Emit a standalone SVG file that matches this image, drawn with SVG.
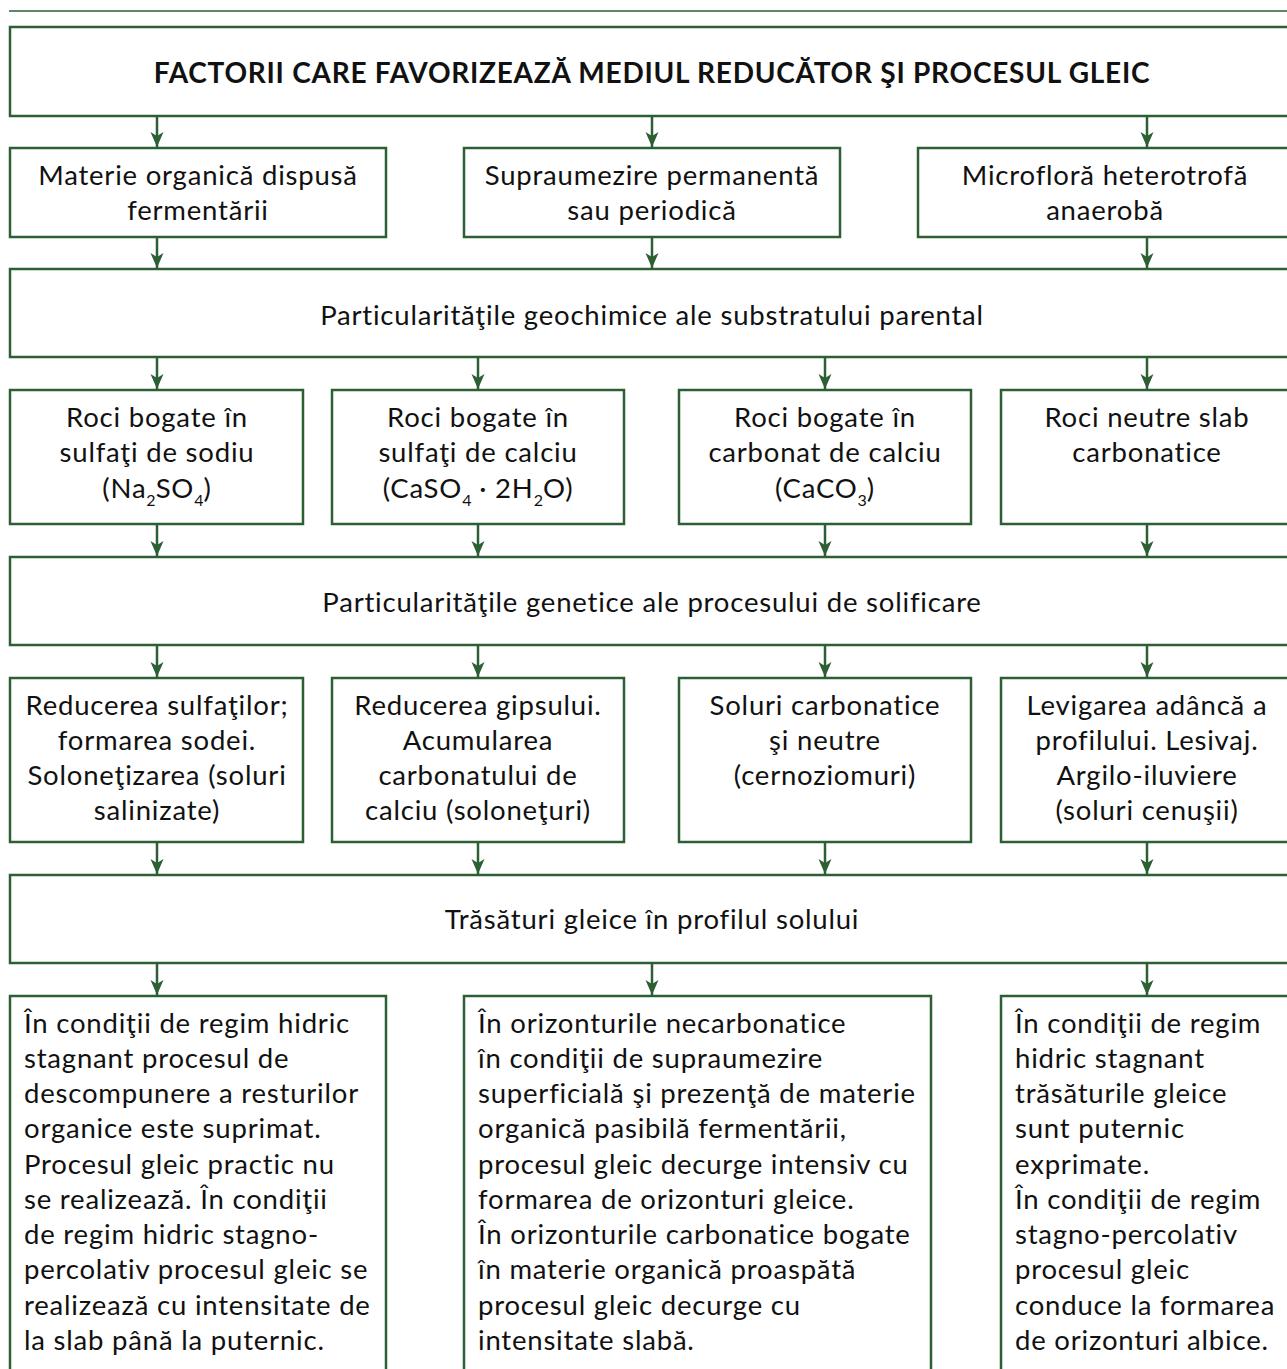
<svg xmlns="http://www.w3.org/2000/svg" width="1287" height="1369" viewBox="0 0 1287 1369">
  <style>
    .box { fill: #ffffff; stroke: #2c5f34; stroke-width: 2.5; }
    .rule { stroke: #2c5f34; stroke-width: 1.6; }
    .conn { stroke: #2c5f34; stroke-width: 2.5; fill: none; }
    text { font-family: Lato, "Liberation Sans", sans-serif; font-size: 27.5px; letter-spacing: 0.8px; fill: #111111; }
    .c { text-anchor: middle; }
    .title { font-weight: bold; font-size: 28px; letter-spacing: 0.75px; }
    .sub { font-size: 16px; letter-spacing: 0; }
  </style>
  <defs>
    <!-- arrowhead, tip at the end point of the connector -->
    <marker id="head" viewBox="-15 -7 15 14" refX="0" refY="0" markerWidth="15" markerHeight="14" markerUnits="userSpaceOnUse" orient="auto">
      <path d="M-15,-6.5 L-11,0 L-15,6.5 L0,0 Z" fill="#2c5f34"/>
    </marker>
  </defs>
  <rect width="1287" height="1369" fill="#ffffff"/>
  <line class="rule" x1="9" y1="11" x2="1290" y2="11"/>

  <!-- title -->
  <g id="n-title">
    <rect class="box" x="10" y="27" width="1290" height="89"/>
    <text class="c title" x="652" y="83">FACTORII CARE FAVORIZEAZĂ MEDIUL REDUCĂTOR ŞI PROCESUL GLEIC</text>
  </g>

  <!-- row 1 -->
  <g id="n-materie">
    <rect class="box" x="10" y="148" width="376" height="89"/>
    <text class="c" x="198" y="185">Materie organică dispusă</text>
    <text class="c" x="198" y="220">fermentării</text>
  </g>
  <g id="n-supraumezire">
    <rect class="box" x="464" y="148" width="376" height="89"/>
    <text class="c" x="652" y="185">Supraumezire permanentă</text>
    <text class="c" x="652" y="220">sau periodică</text>
  </g>
  <g id="n-microflora">
    <rect class="box" x="918" y="148" width="380" height="89"/>
    <text class="c" x="1105" y="185">Microfloră heterotrofă</text>
    <text class="c" x="1105" y="220">anaerobă</text>
  </g>

  <!-- geochemical band -->
  <g id="n-geochimice">
    <rect class="box" x="10" y="269" width="1290" height="88"/>
    <text class="c" x="652" y="325">Particularităţile geochimice ale substratului parental</text>
  </g>

  <!-- row 3 -->
  <g id="n-roci-na">
    <rect class="box" x="10" y="390" width="293" height="134"/>
    <text class="c" x="157" y="427">Roci bogate în</text>
    <text class="c" x="157" y="462">sulfaţi de sodiu</text>
    <text class="c" x="157" y="498">(Na<tspan class="sub" dy="8">2</tspan><tspan dy="-8">SO</tspan><tspan class="sub" dy="8">4</tspan><tspan dy="-8">)</tspan></text>
  </g>
  <g id="n-roci-ca">
    <rect class="box" x="332" y="390" width="292" height="134"/>
    <text class="c" x="478" y="427">Roci bogate în</text>
    <text class="c" x="478" y="462">sulfaţi de calciu</text>
    <text class="c" x="478" y="498">(CaSO<tspan class="sub" dy="8">4</tspan><tspan dy="-8"> · 2H</tspan><tspan class="sub" dy="8">2</tspan><tspan dy="-8">O)</tspan></text>
  </g>
  <g id="n-roci-co3">
    <rect class="box" x="679" y="390" width="292" height="134"/>
    <text class="c" x="825" y="427">Roci bogate în</text>
    <text class="c" x="825" y="462">carbonat de calciu</text>
    <text class="c" x="825" y="498">(CaCO<tspan class="sub" dy="8">3</tspan><tspan dy="-8">)</tspan></text>
  </g>
  <g id="n-roci-neutre">
    <rect class="box" x="1001" y="390" width="300" height="134"/>
    <text class="c" x="1147" y="427">Roci neutre slab</text>
    <text class="c" x="1147" y="462">carbonatice</text>
  </g>

  <!-- genetic band -->
  <g id="n-genetice">
    <rect class="box" x="10" y="557" width="1290" height="88"/>
    <text class="c" x="652" y="612">Particularităţile genetice ale procesului de solificare</text>
  </g>

  <!-- row 5 -->
  <g id="n-sulfati">
    <rect class="box" x="10" y="678" width="293" height="164"/>
    <text class="c" x="157" y="715">Reducerea sulfaţilor;</text>
    <text class="c" x="157" y="750">formarea sodei.</text>
    <text class="c" x="157" y="785">Soloneţizarea (soluri</text>
    <text class="c" x="157" y="820">salinizate)</text>
  </g>
  <g id="n-gips">
    <rect class="box" x="332" y="678" width="292" height="164"/>
    <text class="c" x="478" y="715">Reducerea gipsului.</text>
    <text class="c" x="478" y="750">Acumularea</text>
    <text class="c" x="478" y="785">carbonatului de</text>
    <text class="c" x="478" y="820">calciu (soloneţuri)</text>
  </g>
  <g id="n-carbonatice">
    <rect class="box" x="679" y="678" width="292" height="164"/>
    <text class="c" x="825" y="715">Soluri carbonatice</text>
    <text class="c" x="825" y="750">şi neutre</text>
    <text class="c" x="825" y="785">(cernoziomuri)</text>
  </g>
  <g id="n-levigare">
    <rect class="box" x="1001" y="678" width="300" height="164"/>
    <text class="c" x="1147" y="715">Levigarea adâncă a</text>
    <text class="c" x="1147" y="750">profilului. Lesivaj.</text>
    <text class="c" x="1147" y="785">Argilo-iluviere</text>
    <text class="c" x="1147" y="820">(soluri cenuşii)</text>
  </g>

  <!-- gley band -->
  <g id="n-gleice">
    <rect class="box" x="10" y="875" width="1290" height="88"/>
    <text class="c" x="652" y="929">Trăsături gleice în profilul solului</text>
  </g>

  <!-- row 7 -->
  <g id="n-stagnant">
    <rect class="box" x="10" y="996" width="376" height="390"/>
    <text x="24" y="1033">În condiţii de regim hidric</text>
    <text x="24" y="1068">stagnant procesul de</text>
    <text x="24" y="1103">descompunere a resturilor</text>
    <text x="24" y="1138">organice este suprimat.</text>
    <text x="24" y="1174">Procesul gleic practic nu</text>
    <text x="24" y="1209">se realizează. În condiţii</text>
    <text x="24" y="1244">de regim hidric stagno-</text>
    <text x="24" y="1279">percolativ procesul gleic se</text>
    <text x="24" y="1315">realizează cu intensitate de</text>
    <text x="24" y="1350">la slab până la puternic.</text>
  </g>
  <g id="n-orizonturi">
    <rect class="box" x="464" y="996" width="467" height="390"/>
    <text x="478" y="1033">În orizonturile necarbonatice</text>
    <text x="478" y="1068">în condiţii de supraumezire</text>
    <text x="478" y="1103">superficială şi prezenţă de materie</text>
    <text x="478" y="1138">organică pasibilă fermentării,</text>
    <text x="478" y="1174">procesul gleic decurge intensiv cu</text>
    <text x="478" y="1209">formarea de orizonturi gleice.</text>
    <text x="478" y="1244">În orizonturile carbonatice bogate</text>
    <text x="478" y="1279">în materie organică proaspătă</text>
    <text x="478" y="1315">procesul gleic decurge cu</text>
    <text x="478" y="1350">intensitate slabă.</text>
  </g>
  <g id="n-albice">
    <rect class="box" x="1001" y="996" width="300" height="390"/>
    <text x="1015" y="1033">În condiţii de regim</text>
    <text x="1015" y="1068">hidric stagnant</text>
    <text x="1015" y="1103">trăsăturile gleice</text>
    <text x="1015" y="1138">sunt puternic</text>
    <text x="1015" y="1174">exprimate.</text>
    <text x="1015" y="1209">În condiţii de regim</text>
    <text x="1015" y="1244">stagno-percolativ</text>
    <text x="1015" y="1279">procesul gleic</text>
    <text x="1015" y="1315">conduce la formarea</text>
    <text x="1015" y="1350">de orizonturi albice.</text>
  </g>

  <!-- connectors between levels -->
  <g id="connectors">
    <path class="conn" d="M157,117 V147" marker-end="url(#head)"/>
    <path class="conn" d="M652,117 V147" marker-end="url(#head)"/>
    <path class="conn" d="M1147,117 V147" marker-end="url(#head)"/>

    <path class="conn" d="M157,238 V268" marker-end="url(#head)"/>
    <path class="conn" d="M652,238 V268" marker-end="url(#head)"/>
    <path class="conn" d="M1147,238 V268" marker-end="url(#head)"/>

    <path class="conn" d="M157,358 V389" marker-end="url(#head)"/>
    <path class="conn" d="M478,358 V389" marker-end="url(#head)"/>
    <path class="conn" d="M825,358 V389" marker-end="url(#head)"/>
    <path class="conn" d="M1147,358 V389" marker-end="url(#head)"/>

    <path class="conn" d="M157,525 V556" marker-end="url(#head)"/>
    <path class="conn" d="M478,525 V556" marker-end="url(#head)"/>
    <path class="conn" d="M825,525 V556" marker-end="url(#head)"/>
    <path class="conn" d="M1147,525 V556" marker-end="url(#head)"/>

    <path class="conn" d="M157,646 V677" marker-end="url(#head)"/>
    <path class="conn" d="M478,646 V677" marker-end="url(#head)"/>
    <path class="conn" d="M825,646 V677" marker-end="url(#head)"/>
    <path class="conn" d="M1147,646 V677" marker-end="url(#head)"/>

    <path class="conn" d="M157,843 V874" marker-end="url(#head)"/>
    <path class="conn" d="M478,843 V874" marker-end="url(#head)"/>
    <path class="conn" d="M825,843 V874" marker-end="url(#head)"/>
    <path class="conn" d="M1147,843 V874" marker-end="url(#head)"/>

    <path class="conn" d="M157,964 V995" marker-end="url(#head)"/>
    <path class="conn" d="M652,964 V995" marker-end="url(#head)"/>
    <path class="conn" d="M1147,964 V995" marker-end="url(#head)"/>
  </g>
</svg>
